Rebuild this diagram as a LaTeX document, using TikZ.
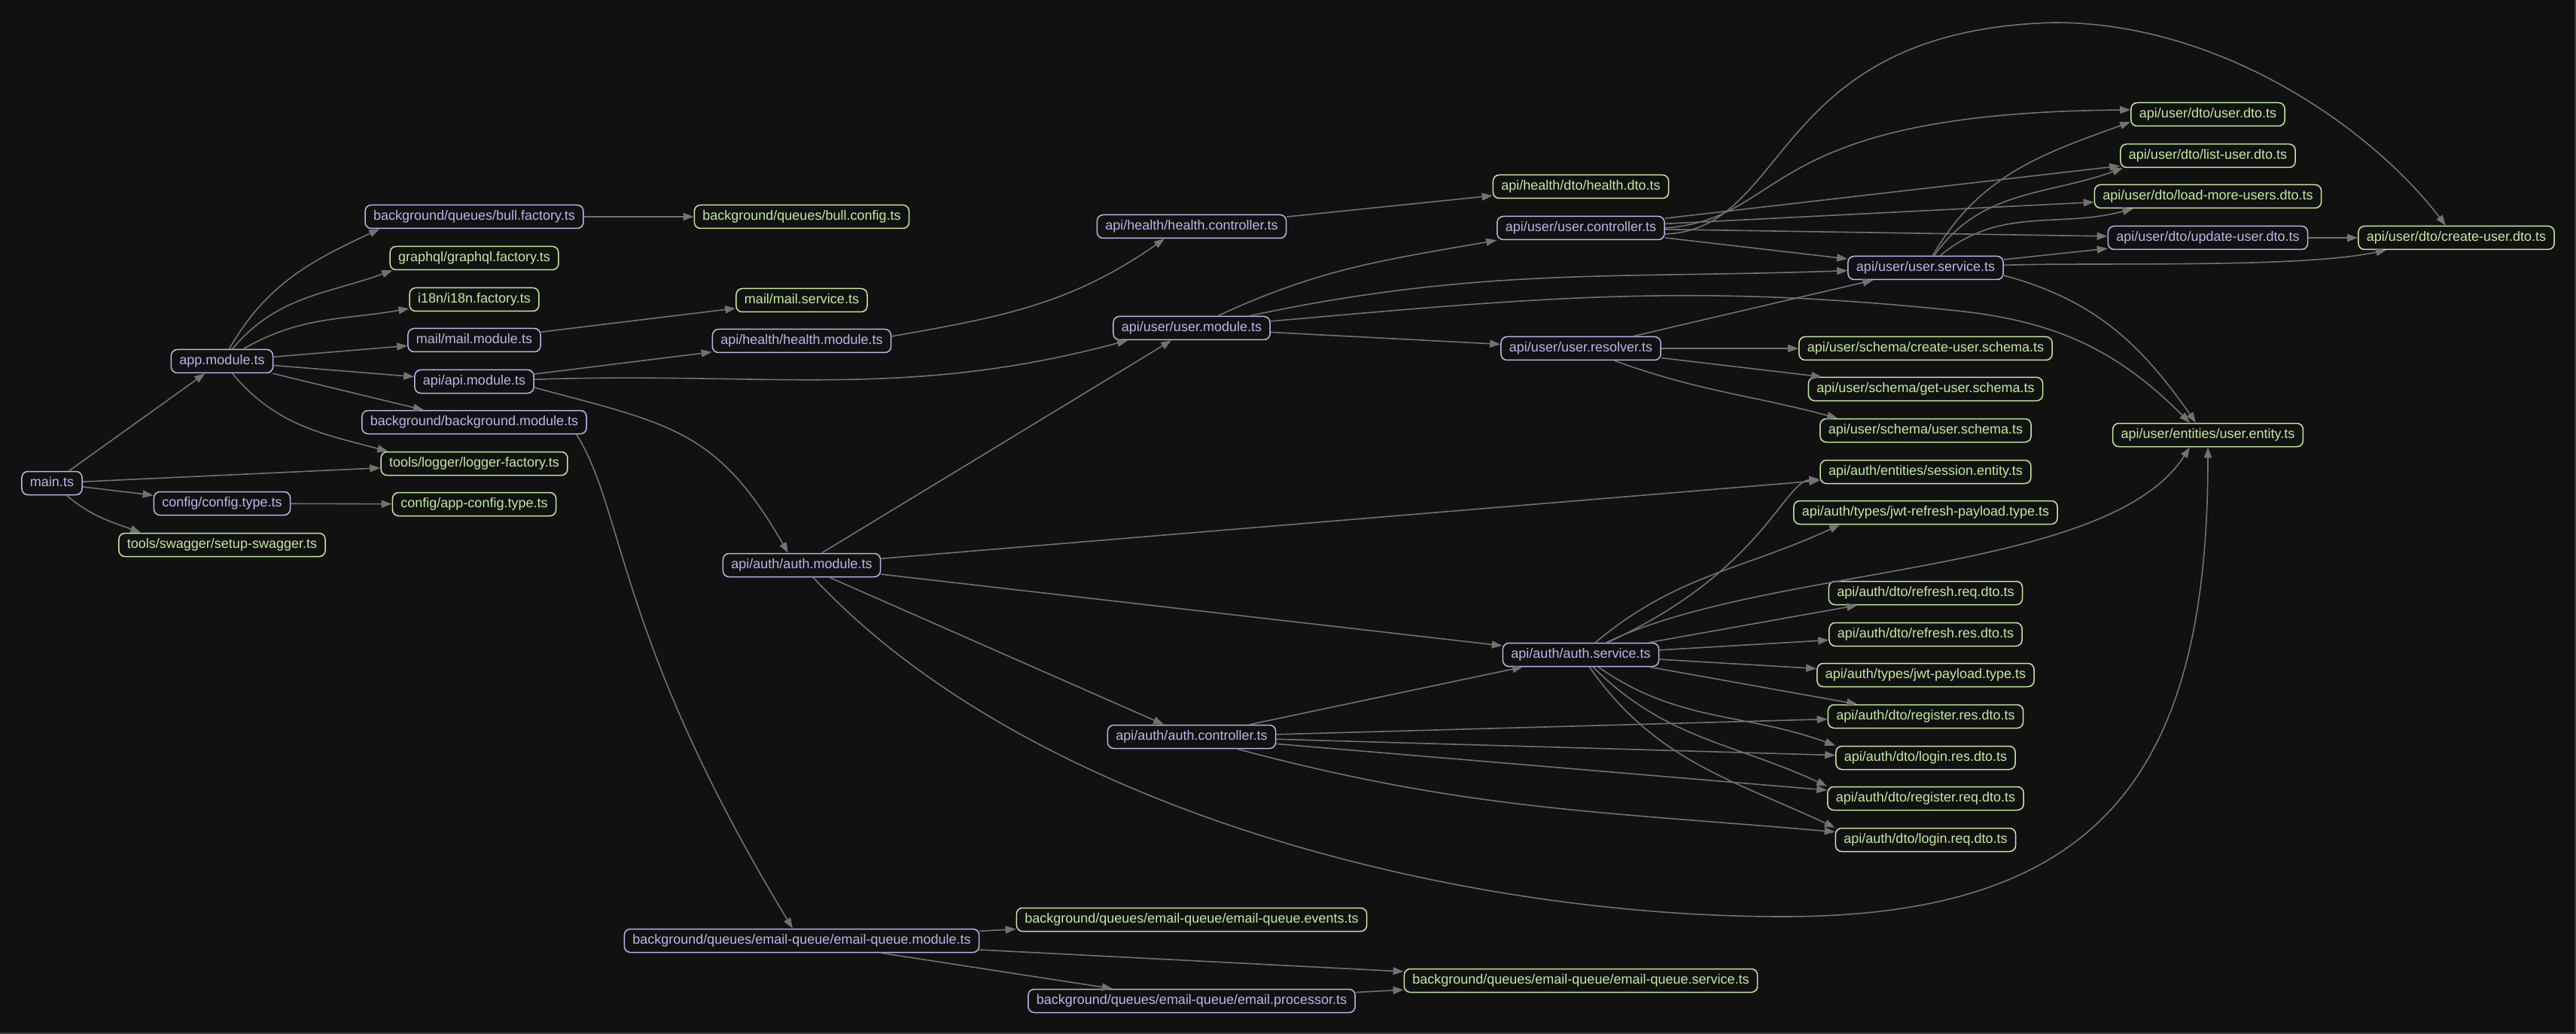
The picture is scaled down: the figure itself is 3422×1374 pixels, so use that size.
\documentclass[tikz,border=0pt]{standalone}
\usepackage{fontspec}
\setmainfont{Liberation Sans}
\usepackage{xcolor}
\usepackage{tikz}
\usetikzlibrary{arrows.meta}
\definecolor{bgdark}{HTML}{111111}
\definecolor{modcol}{HTML}{B8B8EE}
\definecolor{leafcol}{HTML}{C5EBA0}
\definecolor{edgegray}{HTML}{727272}
\definecolor{framegray}{HTML}{3A3A3A}

\begin{document}
\begin{tikzpicture}[x=0.5pt,y=0.5pt,
      box/.style={rectangle,rounded corners=4pt,draw,fill=bgdark,line width=0.75pt,
                  inner xsep=5.5pt,inner ysep=2pt,minimum height=15.5pt,
                  text height=6.6pt,text depth=1.9pt,
                  font=\fontsize{9pt}{10pt}\selectfont},
      modbox/.style={box,draw=modcol,text=modcol},
      leafbox/.style={box,draw=leafcol,text=leafcol},
      arrow/.style={-{Triangle[length=7pt,width=5pt]},line width=0.8pt,edgegray}
    ]

    \useasboundingbox (0,0) rectangle (3422,-1374);
    \fill[bgdark] (0,0) rectangle (3422,-1374);
    \draw[framegray,line width=1pt] (0,-1373) -- (3421,-1373) -- (3421,0);

    % entry
    \node[modbox] (main) at (69,-642) {main.ts};

    % app level
    \node[modbox]  (app)     at (295,-480) {app.module.ts};
    \node[modbox]  (cfgtype) at (295,-669) {config/config.type.ts};
    \node[leafbox] (swagger) at (295,-724) {tools/swagger/setup-swagger.ts};

    % app imports
    \node[modbox]  (bullfac) at (630,-288) {background/queues/bull.factory.ts};
    \node[leafbox] (graphql) at (630,-343) {graphql/graphql.factory.ts};
    \node[leafbox] (i18n)    at (630,-398) {i18n/i18n.factory.ts};
    \node[modbox]  (mailmod) at (630,-452) {mail/mail.module.ts};
    \node[modbox]  (apimod)  at (630,-507) {api/api.module.ts};
    \node[modbox]  (bgmod)   at (630,-561) {background/background.module.ts};
    \node[leafbox] (logger)  at (630,-616) {tools/logger/logger-factory.ts};
    \node[leafbox] (appcfg)  at (630,-670) {config/app-config.type.ts};

    % modules
    \node[leafbox] (bullcfg)   at (1065,-288)  {background/queues/bull.config.ts};
    \node[leafbox] (mailsvc)   at (1065,-399)  {mail/mail.service.ts};
    \node[modbox]  (healthmod) at (1065,-453)  {api/health/health.module.ts};
    \node[modbox]  (authmod)   at (1065,-751)  {api/auth/auth.module.ts};
    \node[modbox]  (eqmod)     at (1065,-1250) {background/queues/email-queue/email-queue.module.ts};

    % controllers
    \node[modbox]  (healthctl) at (1583,-301)  {api/health/health.controller.ts};
    \node[modbox]  (usermod)   at (1583,-436)  {api/user/user.module.ts};
    \node[modbox]  (authctl)   at (1583,-979)  {api/auth/auth.controller.ts};
    \node[leafbox] (eqevents)  at (1583,-1222) {background/queues/email-queue/email-queue.events.ts};
    \node[modbox]  (eqproc)    at (1583,-1330) {background/queues/email-queue/email.processor.ts};

    % services
    \node[leafbox] (healthdto) at (2100,-248)  {api/health/dto/health.dto.ts};
    \node[modbox]  (userctl)   at (2100,-303)  {api/user/user.controller.ts};
    \node[modbox]  (userres)   at (2100,-463)  {api/user/user.resolver.ts};
    \node[modbox]  (authsvc)   at (2100,-870)  {api/auth/auth.service.ts};
    \node[leafbox] (eqsvc)     at (2100,-1303) {background/queues/email-queue/email-queue.service.ts};

    % schemas, types, dtos
    \node[modbox]  (usersvc)      at (2558,-356)  {api/user/user.service.ts};
    \node[leafbox] (createschema) at (2558,-463)  {api/user/schema/create-user.schema.ts};
    \node[leafbox] (getschema)    at (2558,-517)  {api/user/schema/get-user.schema.ts};
    \node[leafbox] (userschema)   at (2558,-572)  {api/user/schema/user.schema.ts};
    \node[leafbox] (session)      at (2558,-627)  {api/auth/entities/session.entity.ts};
    \node[leafbox] (jwtrefresh)   at (2558,-681)  {api/auth/types/jwt-refresh-payload.type.ts};
    \node[leafbox] (refreshreq)   at (2558,-788)  {api/auth/dto/refresh.req.dto.ts};
    \node[leafbox] (refreshres)   at (2558,-843)  {api/auth/dto/refresh.res.dto.ts};
    \node[leafbox] (jwtpayload)   at (2558,-897)  {api/auth/types/jwt-payload.type.ts};
    \node[leafbox] (regres)       at (2558,-952)  {api/auth/dto/register.res.dto.ts};
    \node[leafbox] (loginres)     at (2558,-1007) {api/auth/dto/login.res.dto.ts};
    \node[leafbox] (regreq)       at (2558,-1061) {api/auth/dto/register.req.dto.ts};
    \node[leafbox] (loginreq)     at (2558,-1116) {api/auth/dto/login.req.dto.ts};

    % user dtos
    \node[leafbox] (userdto)     at (2933,-152) {api/user/dto/user.dto.ts};
    \node[leafbox] (listdto)     at (2933,-207) {api/user/dto/list-user.dto.ts};
    \node[leafbox] (loadmoredto) at (2933,-261) {api/user/dto/load-more-users.dto.ts};
    \node[modbox]  (updatedto)   at (2933,-316) {api/user/dto/update-user.dto.ts};
    \node[leafbox] (entity)      at (2933,-578) {api/user/entities/user.entity.ts};
    \node[leafbox] (createdto)   at (3263,-316) {api/user/dto/create-user.dto.ts};

    % bends
    \coordinate (arctop)   at (2729,-30);
    \coordinate (userbend) at (2600,-413);
    \coordinate (authloop) at (2368,-1218);

    % arrows
    \draw[arrow] (main) -- (app);
    \draw[arrow] (main) -- (logger);
    \draw[arrow] (main) -- (cfgtype);
    \draw[arrow] (main) to[out=-40,in=160] ([xshift=15pt]swagger.north west);

    \draw[arrow] (app) to[out=60,in=205] ([xshift=10pt]bullfac.south west);
    \draw[arrow] (app) to[out=50,in=200] ([xshift=2pt]graphql.south west);
    \draw[arrow] (app) to[out=30,in=190] ([yshift=-6pt]i18n.west);
    \draw[arrow] (app) -- (mailmod);
    \draw[arrow] (app) -- (apimod);
    \draw[arrow] (app) -- (bgmod);
    \draw[arrow] (app) to[out=-50,in=165] ([xshift=5pt]logger.north west);

    \draw[arrow] (cfgtype) -- (appcfg);
    \draw[arrow] (bullfac) -- (bullcfg);
    \draw[arrow] (mailmod) -- (mailsvc);

    \draw[arrow] (apimod) -- (healthmod);
    \draw[arrow] (apimod) to[out=2,in=195] ([xshift=10pt]usermod.south west);
    \draw[arrow] ([yshift=-4pt]apimod.east) to[out=-15,in=120,looseness=1.2] ([xshift=-9pt]authmod.north);

    \draw[arrow] ([xshift=-7pt]bgmod.south east) .. controls (830,-680) and (820,-850) .. ([xshift=-6pt]eqmod.north);

    \draw[arrow] ([yshift=3pt]healthmod.east) to[out=10,in=215] ([xshift=-18pt]healthctl.south);
    \draw[arrow] (healthctl) -- (healthdto);

    \draw[arrow] (usermod) to[out=25,in=190] (userctl.south west);
    \draw[arrow] (usermod) to[out=12,in=182] (usersvc);
    \draw[arrow] (usermod) to[out=5,in=174] (userbend)
                           to[out=-6,in=135] ([xshift=-12pt]entity.north);
    \draw[arrow] (usermod) -- (userres);

    \draw[arrow] (authmod) -- (usermod);
    \draw[arrow] (authmod) -- (session);
    \draw[arrow] (authmod) -- (authsvc);
    \draw[arrow] (authmod) -- (authctl);
    \draw[arrow] (authmod) to[out=-47,in=180,looseness=0.8] (authloop)
                           to[out=0,in=-90,looseness=1.3] (entity.south);

    \draw[arrow] (authctl) -- (authsvc);
    \draw[arrow] (authctl) -- (regres);
    \draw[arrow] (authctl) -- (loginres);
    \draw[arrow] (authctl) -- (regreq);
    \draw[arrow] (authctl) to[out=-15,in=175] (loginreq);

    \draw[arrow] (authsvc) .. controls (2340,-760) and (2370,-640) .. (session);
    \draw[arrow] (authsvc) to[out=40,in=205] ([xshift=31pt]jwtrefresh.south west);
    \draw[arrow] (authsvc) .. controls (2350,-750) and (2800,-765) .. ([xshift=-12pt]entity.south);
    \draw[arrow] (authsvc) -- (refreshreq);
    \draw[arrow] (authsvc) -- (refreshres);
    \draw[arrow] (authsvc) -- (jwtpayload);
    \draw[arrow] (authsvc) -- (regres);
    \draw[arrow] (authsvc) to[out=-35,in=160] (loginres.north west);
    \draw[arrow] (authsvc) to[out=-45,in=155] (regreq.north west);
    \draw[arrow] (authsvc) to[out=-55,in=155] (loginreq.north west);

    \draw[arrow] (userctl) -- (usersvc);
    \draw[arrow] (userctl) -- (updatedto);
    \draw[arrow] (userctl) -- (listdto);
    \draw[arrow] (userctl) -- (loadmoredto);
    \draw[arrow] (userctl.east) .. controls (2380,-290) and (2330,-150) .. ([yshift=3pt]userdto.west);
    \draw[arrow] ([yshift=-4pt]userctl.east) .. controls (2380,-305) and (2350,-40) .. (arctop)
                 .. controls (2950,-30) and (3150,-170) .. ([xshift=-7pt]createdto.north);

    \draw[arrow] (usersvc) to[out=60,in=200] ([yshift=-5pt]userdto.west);
    \draw[arrow] (usersvc) to[out=55,in=200] ([xshift=2pt]listdto.south west);
    \draw[arrow] (usersvc) to[out=40,in=195] ([xshift=26pt]loadmoredto.south west);
    \draw[arrow] (usersvc) -- (updatedto);
    \draw[arrow] (usersvc) to[out=2,in=192,looseness=0.6] ([xshift=19pt]createdto.south west);
    \draw[arrow] ([yshift=-5pt]usersvc.east) to[out=-15,in=125] ([xshift=-8pt]entity.north);

    \draw[arrow] (userres) -- (createschema);
    \draw[arrow] (userres) -- (getschema);
    \draw[arrow] (userres) to[out=-20,in=165] ([xshift=12pt]userschema.north west);
    \draw[arrow] (userres) -- (usersvc);

    \draw[arrow] (updatedto) -- (createdto);

    \draw[arrow] (eqmod) -- (eqevents);
    \draw[arrow] (eqmod) -- (eqsvc);
    \draw[arrow] (eqmod) -- (eqproc);
    \draw[arrow] (eqproc) -- (eqsvc);

  \end{tikzpicture}
\end{document}
